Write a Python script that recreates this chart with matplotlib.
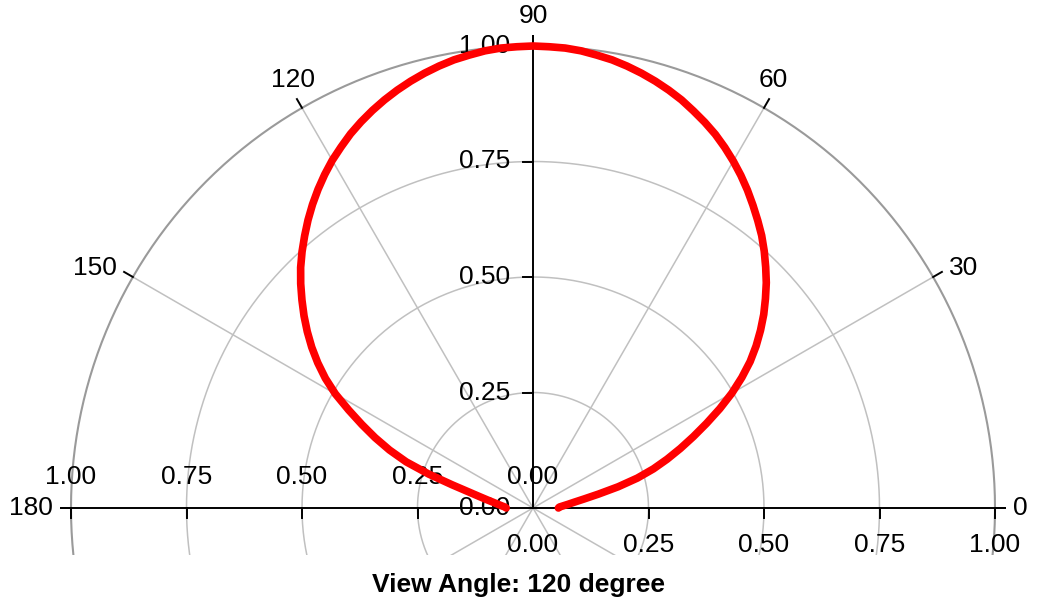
import numpy as np
import matplotlib
matplotlib.use('Agg')
import matplotlib.pyplot as plt

# measured response vs angle (degrees), read every 2 degrees
angles = list(range(0, 181, 2))
values = [0.055, 0.057, 0.065, 0.076, 0.090, 0.112, 0.145, 0.190, 0.235, 0.274,
          0.309, 0.344, 0.380, 0.418, 0.458, 0.497, 0.533, 0.567, 0.597, 0.625,
          0.652, 0.677, 0.702, 0.725, 0.748, 0.770, 0.790, 0.810, 0.830, 0.849,
          0.867, 0.884, 0.900, 0.914, 0.927, 0.940, 0.951, 0.961, 0.970, 0.978,
          0.985, 0.990, 0.995, 0.998, 0.999, 1.000, 0.999, 0.998, 0.995, 0.990,
          0.985, 0.978, 0.970, 0.961, 0.951, 0.940, 0.928, 0.915, 0.901, 0.885,
          0.869, 0.851, 0.832, 0.812, 0.791, 0.769, 0.747, 0.724, 0.699, 0.673,
          0.647, 0.620, 0.592, 0.562, 0.530, 0.494, 0.452, 0.412, 0.374, 0.335,
          0.292, 0.237, 0.182, 0.143, 0.118, 0.100, 0.086, 0.076, 0.068, 0.061,
          0.058]
r_ticks = [0.0, 0.25, 0.5, 0.75, 1.0]
r_labels = ["0.00", "0.25", "0.50", "0.75", "1.00"]
theta_ticks = [0, 30, 60, 90, 120, 150, 180]
title = "View Angle: 120 degree"

plt.rcParams['font.family'] = ['Liberation Sans', 'DejaVu Sans']
FS = 19
GRID = "#c0c0c0"

fig = plt.figure(figsize=(10.37, 6.04), dpi=100)
ax = fig.add_axes([0, 49 / 604, 1, 555 / 604])
ax.set_xlim(-533 / 462, (1037 - 533) / 462)
ax.set_ylim(-47 / 462, 508 / 462)
ax.set_aspect('equal')
ax.axis('off')

# grid circles
t = np.linspace(0, 2 * np.pi, 721)
for r in r_ticks[1:]:
    if r == r_ticks[-1]:
        ax.plot(r * np.cos(t), r * np.sin(t), color="#9a9a9a", lw=1.5, zorder=1)
    else:
        ax.plot(r * np.cos(t), r * np.sin(t), color=GRID, lw=1.1, zorder=1)

# radial grid lines (through centre)
for a in theta_ticks:
    if a in (0, 90, 180):
        continue
    rad = np.deg2rad(a)
    ax.plot([-np.cos(rad), np.cos(rad)], [-np.sin(rad), np.sin(rad)], color=GRID, lw=1.1, zorder=1)

# axis lines
ext = 1.022
ax.plot([-ext, ext], [0, 0], color="black", lw=1.4, zorder=2)
ax.plot([0, 0], [0, ext], color="black", lw=1.4, zorder=2)

# angular ticks and labels
for a in theta_ticks:
    rad = np.deg2rad(a)
    c, s = np.cos(rad), np.sin(rad)
    ax.plot([c, ext * c], [s, ext * s], color="black", lw=1.4, zorder=2)
    ha = 'left' if c > 0.6 else ('right' if c < -0.6 else 'center')
    va = 'bottom' if s > 0.6 else 'center'
    ax.text(1.04 * c, 1.04 * s, str(a), ha=ha, va=va, fontsize=FS)

# radial ticks and labels
tl = 0.022
for r, lab in zip(r_ticks, r_labels):
    if r > 0:
        ax.plot([r, r], [0, -tl], color="black", lw=1.4, zorder=2)
        ax.plot([-r, -r], [0, -tl], color="black", lw=1.4, zorder=2)
        ax.plot([-tl, 0], [r, r], color="black", lw=1.4, zorder=2)
    ax.text(r, -0.08, lab, ha='center', va='center', fontsize=FS)
    ax.text(-r, 0.067, lab, ha='center', va='center', fontsize=FS)
    ax.text(-0.05, r, lab, ha='right', va='center', fontsize=FS)

# data curve
th = np.deg2rad(angles)
vals = np.array(values)
ax.plot(vals * np.cos(th), vals * np.sin(th), color="#ff0000", lw=5.5,
        solid_capstyle='round', solid_joinstyle='round', zorder=5)

fig.text(0.5, 19 / 604, title, ha='center', va='center', fontsize=FS, fontweight='bold')

fig.savefig("out.png", dpi=100)
